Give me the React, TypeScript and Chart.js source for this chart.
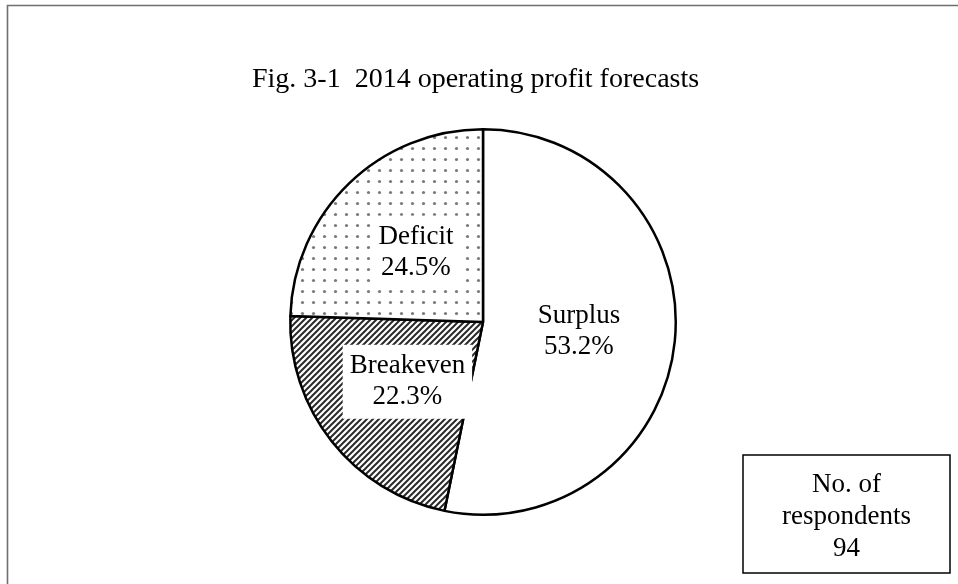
import React, { useEffect, useRef } from 'react';
import { Chart, registerables } from 'chart.js';

Chart.register(...registerables);

const categories = ['Surplus', 'Breakeven', 'Deficit'];
const shares = [53.2, 22.3, 24.5];
const titleText = 'Fig. 3-1  2014 operating profit forecasts';
const respondentLines = ['No. of', 'respondents', '94'];

const FONT = '"Liberation Serif", "Times New Roman", serif';

function makeDotPattern(): CanvasPattern | string {
  const c = document.createElement('canvas');
  c.width = 11;
  c.height = 11;
  const g = c.getContext('2d');
  if (!g) return '#fff';
  g.fillStyle = '#ffffff';
  g.fillRect(0, 0, 11, 11);
  g.fillStyle = '#7a7a7a';
  g.beginPath();
  g.arc(5.5, 5.5, 1.6, 0, Math.PI * 2);
  g.fill();
  return g.createPattern(c, 'repeat') || '#fff';
}

function makeHatchPattern(): CanvasPattern | string {
  const s = 6;
  const c = document.createElement('canvas');
  c.width = s;
  c.height = s;
  const g = c.getContext('2d');
  if (!g) return '#888';
  g.fillStyle = '#ffffff';
  g.fillRect(0, 0, s, s);
  g.strokeStyle = '#2a2a2a';
  g.lineWidth = 2;
  g.beginPath();
  g.moveTo(0, s);
  g.lineTo(s, 0);
  g.moveTo(-s / 2, s / 2);
  g.lineTo(s / 2, -s / 2);
  g.moveTo(s / 2, s * 1.5);
  g.lineTo(s * 1.5, s / 2);
  g.stroke();
  return g.createPattern(c, 'repeat') || '#888';
}

const sliceLabels = {
  id: 'sliceLabels',
  afterDatasetsDraw(chart: any) {
    const ctx = chart.ctx as CanvasRenderingContext2D;
    const meta = chart.getDatasetMeta(0);
    ctx.save();
    ctx.font = `27px ${FONT}`;
    ctx.textAlign = 'center';
    ctx.textBaseline = 'middle';
    const lh = 31;
    meta.data.forEach((arc: any, i: number) => {
      const { x, y } = arc.tooltipPosition(false);
      const lines = [categories[i], shares[i].toFixed(1) + '%'];
      const w = Math.max(...lines.map((l) => ctx.measureText(l).width)) + 14;
      const h = lh * lines.length + 12;
      if (i !== 0) {
        ctx.fillStyle = '#ffffff';
        ctx.fillRect(x - w / 2, y - h / 2, w, h);
      }
      ctx.fillStyle = '#000000';
      lines.forEach((l, j) => {
        ctx.fillText(l, x, y + (j - (lines.length - 1) / 2) * lh);
      });
    });
    ctx.restore();
  },
};

const decorations = {
  id: 'decorations',
  beforeDraw(chart: any) {
    const ctx = chart.ctx as CanvasRenderingContext2D;
    ctx.save();
    ctx.fillStyle = '#ffffff';
    ctx.fillRect(0, 0, chart.width, chart.height);
    ctx.strokeStyle = '#6f6f6f';
    ctx.lineWidth = 1.6;
    ctx.beginPath();
    ctx.moveTo(7.5, chart.height + 2);
    ctx.lineTo(7.5, 5.5);
    ctx.lineTo(chart.width + 2, 5.5);
    ctx.stroke();
    ctx.restore();
  },
  afterDraw(chart: any) {
    const ctx = chart.ctx as CanvasRenderingContext2D;
    ctx.save();
    const bx = 743;
    const by = 455;
    const bw = 207;
    const bh = 118;
    ctx.fillStyle = '#ffffff';
    ctx.fillRect(bx, by, bw, bh);
    ctx.strokeStyle = '#000000';
    ctx.lineWidth = 1.5;
    ctx.strokeRect(bx, by, bw, bh);
    ctx.fillStyle = '#000000';
    ctx.font = `27px ${FONT}`;
    ctx.textAlign = 'center';
    ctx.textBaseline = 'alphabetic';
    respondentLines.forEach((l, j) => {
      ctx.fillText(l, bx + bw / 2, by + 37 + j * 32);
    });
    ctx.restore();
  },
};

export default function App() {
  const ref = useRef<HTMLCanvasElement | null>(null);

  useEffect(() => {
    if (!ref.current) return;
    const fills = ['#ffffff', makeHatchPattern(), makeDotPattern()];
    const chart = new Chart(ref.current, {
      type: 'pie',
      data: {
        labels: categories,
        datasets: [
          {
            data: shares,
            backgroundColor: fills as any,
            borderColor: '#000000',
            borderWidth: 2.5,
          },
        ],
      },
      options: {
        animation: false,
        responsive: false,
        devicePixelRatio: 1,
        layout: { padding: { left: 252, right: 244, top: 53, bottom: 68 } },
        plugins: {
          legend: { display: false },
          tooltip: { enabled: false },
          title: {
            display: true,
            text: titleText,
            align: 'start',
            color: '#000000',
            font: { family: FONT, size: 28, weight: 'normal' as any, lineHeight: 1.2 },
            padding: { top: 10, bottom: 31.4 },
          },
        },
      },
      plugins: [decorations, sliceLabels],
    });
    return () => chart.destroy();
  }, []);

  return (
    <div style={{ position: 'absolute', left: 0, top: 0, width: 958, height: 584 }}>
      <canvas ref={ref} width={958} height={584} style={{ width: 958, height: 584, display: 'block' }} />
    </div>
  );
}
